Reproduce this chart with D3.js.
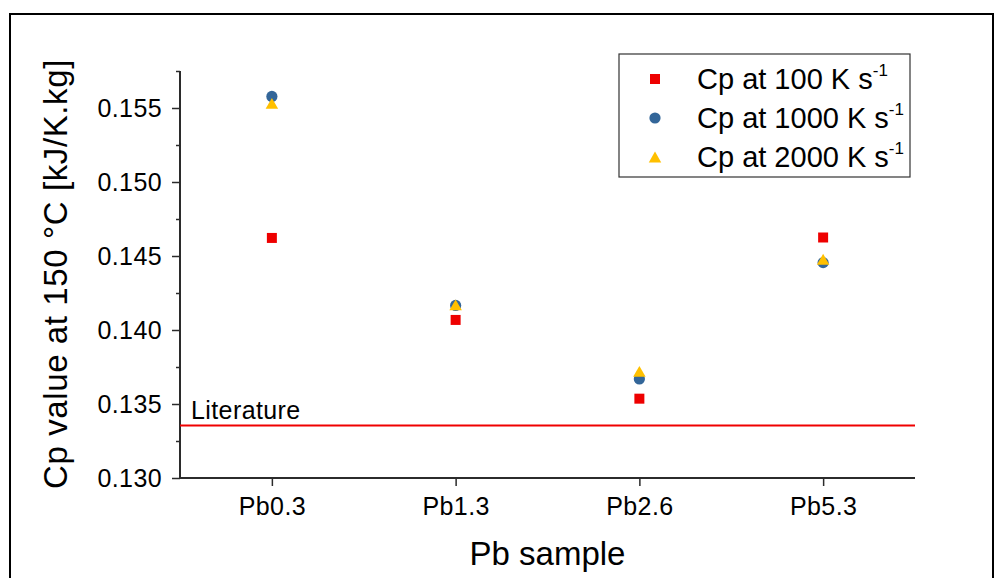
<!DOCTYPE html>
<html>
<head>
<meta charset="utf-8">
<script src="https://cdn.jsdelivr.net/npm/d3@7"></script>
<style>
  html, body { margin: 0; padding: 0; background: #fff; }
  svg { display: block; font-family: "Liberation Sans", Arial, sans-serif; }
</style>
</head>
<body>
<svg id="chart" width="995" height="578"></svg>
<script>
// Samples and specific heat values (kJ/K.kg) at 150 °C
const samples = ["Pb0.3", "Pb1.3", "Pb2.6", "Pb5.3"];
const cp100 = [0.14622, 0.14068, 0.13536, 0.14625];
const cp1000 = [0.15578, 0.14166, 0.13669, 0.14455];
const cp2000 = [0.15531, 0.14170, 0.13720, 0.14478];
const literatureValue = 0.13355;
const yMajorTicks = [0.130, 0.135, 0.140, 0.145, 0.150, 0.155];
const yMinorTicks = [0.1325, 0.1375, 0.1425, 0.1475, 0.1525, 0.1575];
const seriesNames = ["Cp at 100 K s", "Cp at 1000 K s", "Cp at 2000 K s"];

const svg = d3.select("#chart");

// outer frame
svg.append("rect")
  .attr("x", 10).attr("y", 14)
  .attr("width", 983).attr("height", 620)
  .attr("fill", "none").attr("stroke", "#000").attr("stroke-width", 2);

const plotLeft = 180, plotRight = 915, plotTop = 71, plotBottom = 478;

const x = d3.scalePoint().domain(samples).range([plotLeft, plotRight]).padding(0.5);
const y = d3.scaleLinear().domain([0.130, 0.1575]).range([plotBottom, plotTop]);

const axisColor = "#2b2b2b";

// y axis (major ticks with labels)
const gy = svg.append("g").attr("transform", `translate(${plotLeft},0)`)
  .call(d3.axisLeft(y).tickValues(yMajorTicks).tickSize(8).tickPadding(10)
    .tickFormat(d3.format(".3f")));
// minor ticks
const gyMinor = svg.append("g").attr("transform", `translate(${plotLeft},0)`)
  .call(d3.axisLeft(y).tickValues(yMinorTicks).tickSize(4).tickFormat(""));
gyMinor.select(".domain").remove();

// x axis
const gx = svg.append("g").attr("transform", `translate(0,${plotBottom})`)
  .call(d3.axisBottom(x).tickSize(8).tickPadding(11));

[gy, gyMinor, gx].forEach(g => {
  g.selectAll(".domain").attr("stroke", axisColor).attr("stroke-width", 2);
  g.selectAll(".tick line").attr("stroke", axisColor).attr("stroke-width", 1.5);
  g.selectAll(".tick text").attr("fill", "#000")
    .style("font-size", "25px").style("letter-spacing", "0.4px")
    .style("font-family", "Liberation Sans, Arial, sans-serif");
});
// domain without end caps
gy.select(".domain").attr("d", `M0,${plotBottom}V${plotTop}`);
gx.select(".domain").attr("d", `M${plotLeft},0H${plotRight}`);

// literature reference line
svg.append("line")
  .attr("x1", plotLeft).attr("x2", plotRight)
  .attr("y1", y(literatureValue)).attr("y2", y(literatureValue))
  .attr("stroke", "#f00000").attr("stroke-width", 2);
svg.append("text")
  .attr("x", 191).attr("y", y(literatureValue) - 6)
  .style("font-size", "25px").style("letter-spacing", "0.4px").attr("fill", "#000")
  .text("Literature");

// axis titles
svg.append("text")
  .attr("x", (plotLeft + plotRight) / 2).attr("y", 565)
  .attr("text-anchor", "middle").style("font-size", "33px")
  .text("Pb sample");
svg.append("text")
  .attr("transform", "translate(67,274) rotate(-90)")
  .attr("text-anchor", "middle").style("font-size", "33px").style("letter-spacing", "0.6px")
  .text("Cp value at 150 °C [kJ/K.kg]");

// marker shapes
const colors = ["#ee0000", "#336699", "#ffc000"];
function squarePath(s) { return `M${-s/2},${-s/2}h${s}v${s}h${-s}Z`; }
function trianglePath(w) { const h = w * 0.866; return `M0,${-h/2}L${w/2},${h/2}L${-w/2},${h/2}Z`; }
function circlePath(r) { return `M${r},0A${r},${r} 0 1,1 ${-r},0A${r},${r} 0 1,1 ${r},0Z`; }
const shapes = [squarePath(10), circlePath(5.6), trianglePath(12.5)];

const series = [cp100, cp1000, cp2000];
// draw order: square, circle, triangle (triangle on top)
series.forEach((vals, i) => {
  svg.append("g").selectAll("path")
    .data(vals)
    .join("path")
    .attr("d", shapes[i])
    .attr("transform", (d, j) => `translate(${x(samples[j])},${y(d)})`)
    .attr("fill", colors[i]);
});

// legend
const legend = svg.append("g");
legend.append("rect")
  .attr("x", 619).attr("y", 54).attr("width", 291).attr("height", 123)
  .attr("fill", "#fff").attr("stroke", "#333").attr("stroke-width", 1.2);
const rowY = [79, 118, 157];
seriesNames.forEach((name, i) => {
  legend.append("path")
    .attr("d", shapes[i])
    .attr("transform", `translate(655,${rowY[i]})`)
    .attr("fill", colors[i]);
  const t = legend.append("text")
    .attr("x", 697).attr("y", rowY[i] + 10)
    .style("font-size", "29px").attr("fill", "#000");
  t.append("tspan").text(name);
  t.append("tspan").attr("dy", -13).style("font-size", "17px").text("-1");
});
</script>
</body>
</html>
